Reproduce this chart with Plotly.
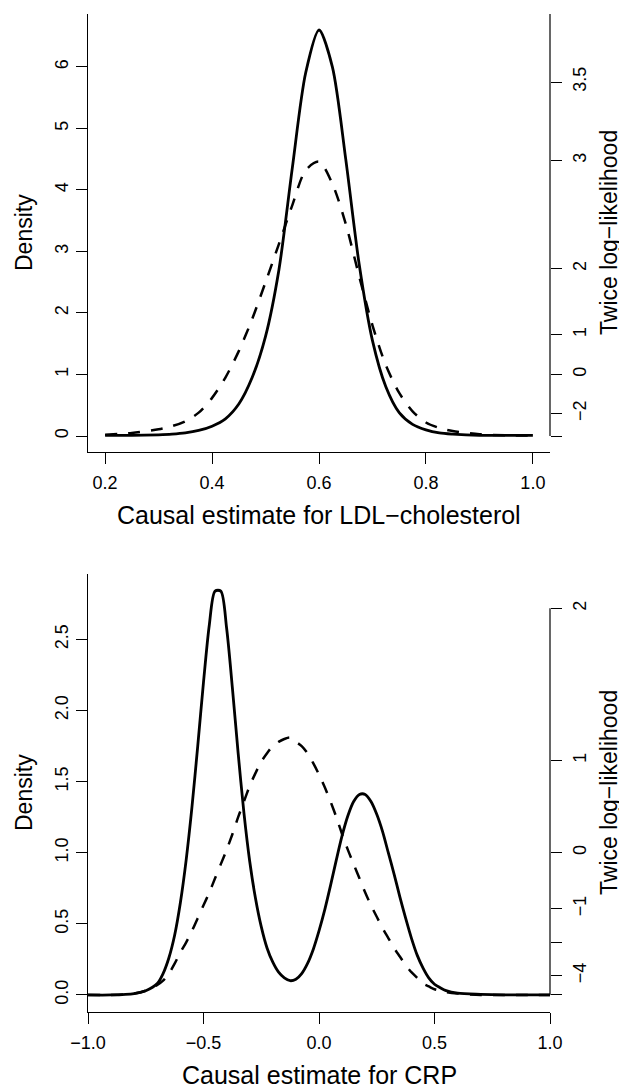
import math
import plotly.graph_objects as go

# ---- data ----
# top panel: LDL-cholesterol
ldl_x = [0.200, 0.250, 0.300, 0.325, 0.350, 0.375, 0.400, 0.425, 0.450, 0.475,
         0.500, 0.525, 0.550, 0.575, 0.600, 0.625, 0.650, 0.675, 0.700, 0.725,
         0.750, 0.775, 0.800, 0.825, 0.850, 0.900, 0.950, 1.000]
ldl_density = [0.01, 0.01, 0.02, 0.03, 0.05, 0.09, 0.16, 0.28, 0.52, 0.95,
               1.62, 2.70, 4.35, 5.90, 6.60, 6.00, 4.50, 2.80, 1.55, 0.80,
               0.38, 0.19, 0.10, 0.05, 0.03, 0.01, 0.01, 0.01]
ldl_lik = [0.02, 0.05, 0.11, 0.16, 0.24, 0.38, 0.62, 0.95, 1.38, 1.90,
           2.50, 3.12, 3.75, 4.32, 4.46, 4.10, 3.45, 2.60, 1.80, 1.15,
           0.70, 0.40, 0.22, 0.13, 0.08, 0.03, 0.01, 0.01]

# bottom panel: CRP
crp_x = [-1.0, -0.9, -0.8, -0.75,
         -0.700, -0.675, -0.650, -0.625, -0.600, -0.575, -0.550, -0.525, -0.500, -0.475,
         -0.450, -0.425, -0.400, -0.375, -0.350, -0.325, -0.300, -0.275, -0.250, -0.225,
         -0.200, -0.175, -0.150, -0.125, -0.100, -0.075, -0.050, -0.025, 0.000, 0.025,
         0.050, 0.075, 0.100, 0.125, 0.150, 0.175, 0.200, 0.225, 0.250, 0.275,
         0.300, 0.325, 0.350, 0.375, 0.400, 0.425, 0.450, 0.475, 0.500, 0.525,
         0.550, 0.6, 0.7, 0.8, 0.9, 1.0]
crp_density = [0.0, 0.0, 0.01, 0.03,
               0.08, 0.15, 0.26, 0.42, 0.65, 0.95, 1.32, 1.75, 2.20, 2.60,
               2.84, 2.84, 2.58, 2.16, 1.70, 1.28, 0.94, 0.68, 0.48, 0.33,
               0.23, 0.16, 0.12, 0.10, 0.11, 0.15, 0.22, 0.32, 0.45, 0.60,
               0.77, 0.95, 1.12, 1.26, 1.36, 1.41, 1.41, 1.36, 1.27, 1.15,
               1.00, 0.85, 0.69, 0.54, 0.40, 0.28, 0.19, 0.12, 0.075, 0.05,
               0.03, 0.012, 0.004, 0.0, 0.0, 0.0]
crp_lik = [0.0, 0.0, 0.01, 0.03,
           0.07, 0.10, 0.15, 0.22, 0.30, 0.37, 0.45, 0.54, 0.63, 0.72,
           0.82, 0.92, 1.02, 1.13, 1.25, 1.36, 1.47, 1.56, 1.64, 1.70,
           1.75, 1.78, 1.80, 1.81, 1.78, 1.75, 1.70, 1.63, 1.55, 1.46,
           1.36, 1.25, 1.13, 1.02, 0.92, 0.82, 0.72, 0.63, 0.55, 0.47,
           0.40, 0.33, 0.27, 0.21, 0.16, 0.12, 0.08, 0.06, 0.04, 0.03,
           0.02, 0.01, 0.0, 0.0, 0.0, 0.0]

# twice log-likelihood ticks on the right axes
ldl_ll_ticks = [3.5, 3, 2, 1, 0, -2]
crp_ll_ticks = [2, 1, 0, -1, -2, -4]
crp_ll_labels = ["2", "1", "0", "\u22121", "", "\u22124"]

FONT = "Liberation Sans, Arial, Helvetica, sans-serif"
PAGE_MARGIN = 8  # default <body> margin of the html page
W, H = 627 - PAGE_MARGIN, 1089 - PAGE_MARGIN

# page pixel -> paper fraction
def fx(v):
    return (v - PAGE_MARGIN) / W

def fy(v):
    return 1 - (v - PAGE_MARGIN) / H

xdom = [fx(88), fx(550)]
top_dom = [fy(452), fy(14)]
bot_dom = [fy(1012), fy(574)]

top_yr = [-0.26, 6.86]
bot_yr = [-0.12, 2.96]

def ll_to_density(v):
    return math.exp(v / 2)

fig = go.Figure()

fig.add_trace(go.Scatter(x=ldl_x, y=ldl_density, mode="lines", xaxis="x", yaxis="y",
                         line=dict(color="black", width=2.8, shape="spline", smoothing=0.8)))
fig.add_trace(go.Scatter(x=ldl_x, y=ldl_lik, mode="lines", xaxis="x", yaxis="y3",
                         line=dict(color="black", width=2.5, dash="12px,11px",
                                   shape="spline", smoothing=0.8)))
fig.add_trace(go.Scatter(x=crp_x, y=crp_density, mode="lines", xaxis="x2", yaxis="y2",
                         line=dict(color="black", width=2.8, shape="spline", smoothing=0.8)))
fig.add_trace(go.Scatter(x=crp_x, y=crp_lik, mode="lines", xaxis="x2", yaxis="y4",
                         line=dict(color="black", width=2.5, dash="12px,11px",
                                   shape="spline", smoothing=0.8)))

tickfont = dict(family=FONT, size=18, color="black")
common = dict(showgrid=False, zeroline=False, ticks="outside", ticklen=11,
              tickwidth=1.2, tickcolor="black", tickfont=tickfont, automargin=False)

fig.update_layout(
    template="none",
    width=W, height=H,
    margin=dict(l=0, r=0, t=0, b=0, autoexpand=False),
    paper_bgcolor="white", plot_bgcolor="white",
    showlegend=False,
    font=dict(family=FONT, color="black"),
    xaxis=dict(domain=xdom, anchor="y", range=[0.168, 1.032],
               tickvals=[0.2, 0.4, 0.6, 0.8, 1.0], tickformat=".1f",
               showline=True, linecolor="black", linewidth=1.2,
               ticklabelstandoff=3, **common),
    yaxis=dict(domain=top_dom, anchor="x", range=top_yr,
               tickvals=[0, 1, 2, 3, 4, 5, 6], tickangle=-90,
               showline=True, linecolor="black", linewidth=1.2,
               ticklabelstandoff=1, **common),
    yaxis3=dict(overlaying="y", anchor="x", side="right", range=top_yr,
                tickvals=[ll_to_density(v) for v in ldl_ll_ticks] + [0.0],
                ticktext=[f"{v:g}".replace("-", "\u2212") for v in ldl_ll_ticks] + [""],
                tickangle=-90, showline=False, ticklabelstandoff=2, **common),
    xaxis2=dict(domain=xdom, anchor="y2", range=[-1, 1],
                tickvals=[-1, -0.5, 0, 0.5, 1], tickformat=".1f",
                showline=True, linecolor="black", linewidth=1.2,
                ticklabelstandoff=3, **common),
    yaxis2=dict(domain=bot_dom, anchor="x2", range=bot_yr,
                tickvals=[0, 0.5, 1, 1.5, 2, 2.5], tickformat=".1f", tickangle=-90,
                showline=True, linecolor="black", linewidth=1.2,
                ticklabelstandoff=1, **common),
    yaxis4=dict(overlaying="y2", anchor="x2", side="right", range=bot_yr,
                tickvals=[ll_to_density(v) for v in crp_ll_ticks] + [0.0],
                ticktext=crp_ll_labels + [""],
                tickangle=-90, showline=False, ticklabelstandoff=2, **common),
)

# right-hand axis lines (from zero density up to the top of the axis)
fig.add_shape(type="line", xref="x domain", yref="y", x0=1, x1=1,
              y0=0, y1=top_yr[1], line=dict(color="black", width=1.2))
fig.add_shape(type="line", xref="x2 domain", yref="y2", x0=1, x1=1,
              y0=0, y1=ll_to_density(max(crp_ll_ticks)), line=dict(color="black", width=1.2))

# axis titles
lab = dict(family=FONT, size=23, color="black")
xmid = (xdom[0] + xdom[1]) / 2
for dom, xtitle, ty in [(top_dom, "Causal estimate for LDL\u2212cholesterol", fy(515)),
                        (bot_dom, "Causal estimate for CRP", fy(1075))]:
    ymid = (dom[0] + dom[1]) / 2
    fig.add_annotation(text="Density", xref="paper", yref="paper", x=fx(24), y=ymid,
                       textangle=-90, showarrow=False, font=lab,
                       xanchor="center", yanchor="middle")
    fig.add_annotation(text="Twice log\u2212likelihood", xref="paper", yref="paper",
                       x=fx(609), y=ymid, textangle=-90, showarrow=False, font=lab,
                       xanchor="center", yanchor="middle")
    fig.add_annotation(text=xtitle, xref="paper", yref="paper", x=xmid, y=ty,
                       showarrow=False, font=dict(family=FONT, size=25, color="black"),
                       xanchor="center", yanchor="middle")

fig.write_html("out.html", config={"displayModeBar": False})
